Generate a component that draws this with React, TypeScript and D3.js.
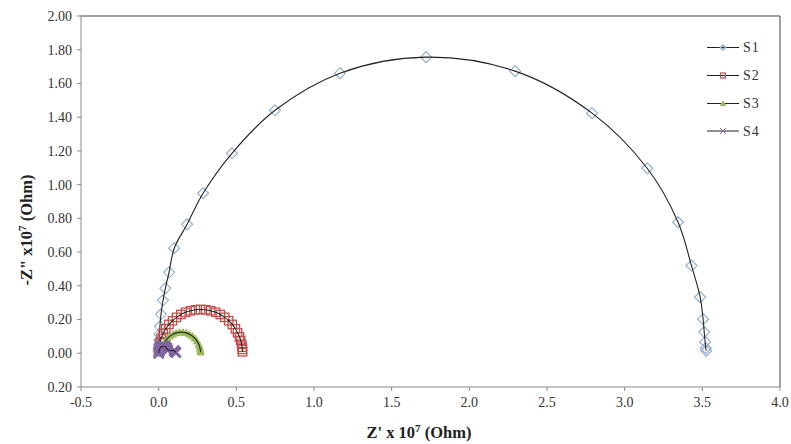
import React from "react";
import * as d3 from "d3";

const seriesNames = ["S1", "S2", "S3", "S4"];

const s1X = [0.0, 0.001, 0.002, 0.003, 0.005, 0.008, 0.015, 0.028, 0.043, 0.067, 0.1, 0.183, 0.286, 0.472, 0.749, 1.168, 1.722, 2.295, 2.79, 3.145, 3.344, 3.43, 3.486, 3.505, 3.512, 3.518, 3.522, 3.525];
const s1Y = [0.01, 0.025, 0.049, 0.077, 0.113, 0.16, 0.231, 0.314, 0.385, 0.48, 0.623, 0.765, 0.949, 1.186, 1.441, 1.661, 1.756, 1.673, 1.424, 1.097, 0.777, 0.52, 0.333, 0.202, 0.126, 0.067, 0.03, 0.015];

const s2X = [0.0004, 0.003, 0.008, 0.016, 0.029, 0.046, 0.066, 0.089, 0.115, 0.143, 0.173, 0.205, 0.237, 0.27, 0.303, 0.335, 0.367, 0.397, 0.425, 0.451, 0.474, 0.494, 0.508, 0.52, 0.528, 0.534, 0.537, 0.539, 0.54];
const s2Y = [0.014, 0.036, 0.063, 0.089, 0.118, 0.145, 0.171, 0.193, 0.213, 0.23, 0.243, 0.252, 0.258, 0.26, 0.258, 0.252, 0.243, 0.23, 0.213, 0.193, 0.171, 0.145, 0.122, 0.097, 0.076, 0.054, 0.036, 0.023, 0.009];

const s3X = [0.002, 0.008, 0.016, 0.024, 0.032, 0.043, 0.057, 0.073, 0.092, 0.113, 0.134, 0.156, 0.177, 0.198, 0.217, 0.233, 0.247, 0.258, 0.264, 0.267, 0.269, 0.27];
const s3Y = [0.004, 0.012, 0.022, 0.032, 0.053, 0.072, 0.088, 0.102, 0.113, 0.121, 0.125, 0.125, 0.121, 0.113, 0.102, 0.088, 0.072, 0.053, 0.039, 0.026, 0.015, 0.0065];

const s4X = [0.0, 0.002, 0.006, 0.012, 0.02, 0.03, 0.04, 0.05, 0.058, 0.1, 0.11];
const s4Y = [0.0, 0.012, 0.024, 0.034, 0.04, 0.042, 0.04, 0.032, 0.02, 0.015, 0.005];

const xTicks = [-0.5, 0, 0.5, 1, 1.5, 2, 2.5, 3, 3.5, 4];
const yTicks = [-0.2, 0, 0.2, 0.4, 0.6, 0.8, 1.0, 1.2, 1.4, 1.6, 1.8, 2.0];

const W = 791;
const H = 444;
const L = 81, R = 780, T = 16, B = 387;

const x = d3.scaleLinear().domain([-0.5, 4]).range([L, R]);
const y = d3.scaleLinear().domain([-0.2, 2]).range([B, T]);

const line = d3
  .line<[number, number]>()
  .x((d) => x(d[0]))
  .y((d) => y(d[1]))
  .curve(d3.curveCatmullRom.alpha(0.5));

const zip = (a: number[], b: number[]) => a.map((v, i) => [v, b[i]] as [number, number]);

const FONT = "'Liberation Serif', 'Times New Roman', serif";

function Marker({ kind, cx, cy, s, w }: { kind: number; cx: number; cy: number; s: number; w?: number }) {
  if (kind === 0) {
    return (
      <path
        d={`M${cx},${cy - s}L${cx + s},${cy}L${cx},${cy + s}L${cx - s},${cy}Z`}
        fill="none"
        stroke="#8EAACB"
        strokeWidth={w ?? 1.1}
      />
    );
  }
  if (kind === 1) {
    return (
      <rect x={cx - s} y={cy - s} width={2 * s} height={2 * s} fill="none" stroke="#C0504D" strokeWidth={w ?? 1.3} />
    );
  }
  if (kind === 2) {
    return (
      <path
        d={`M${cx},${cy - s}L${cx + s},${cy + s * 0.8}L${cx - s},${cy + s * 0.8}Z`}
        fill="#9BBB59"
        stroke="#9BBB59"
        strokeWidth={w ?? 1}
      />
    );
  }
  return (
    <path
      d={`M${cx - s},${cy - s}L${cx + s},${cy + s}M${cx - s},${cy + s}L${cx + s},${cy - s}`}
      stroke="#8064A2"
      strokeWidth={w ?? 2.8}
      fill="none"
    />
  );
}

const series = [
  { pts: zip(s1X, s1Y), size: 5.5 },
  { pts: zip(s2X, s2Y), size: 4.2 },
  { pts: zip(s3X, s3Y), size: 3.5 },
  { pts: zip(s4X, s4Y), size: 5 },
];

const legendY = [47.5, 75.5, 103.5, 131];
const legendSize = [2.5, 2.5, 2.5, 3];
const legendStroke = [1.5, 1.2, 1, 1];

export default function App() {
  return (
    <div style={{ position: "absolute", left: 0, top: 0 }}>
      <svg width={W} height={H} style={{ display: "block", background: "#fff" }}>
        <rect width={W} height={H} fill="#fff" />
        <line x1={L} y1={T} x2={R} y2={T} stroke="#444" strokeWidth={1} />
        <line x1={R} y1={T} x2={R} y2={B} stroke="#444" strokeWidth={1} />
        <line x1={L} y1={T} x2={L} y2={B} stroke="#888" strokeWidth={1} />
        <line x1={L} y1={B} x2={R} y2={B} stroke="#888" strokeWidth={1} />
        {yTicks.map((t) => (
          <g key={"y" + t}>
            <line x1={L - 4} x2={L} y1={y(t)} y2={y(t)} stroke="#888" />
            <text
              x={L - 9}
              y={y(t)}
              dy="0.35em"
              textAnchor="end"
              fontFamily={FONT}
              fontSize={14}
              fill="#333"
            >
              {Math.abs(t).toFixed(2)}
            </text>
          </g>
        ))}
        {xTicks.map((t) => (
          <g key={"x" + t}>
            <line x1={x(t)} x2={x(t)} y1={B} y2={B + 4} stroke="#888" />
            <text x={x(t)} y={B + 20} textAnchor="middle" fontFamily={FONT} fontSize={14} fill="#333">
              {t.toFixed(1)}
            </text>
          </g>
        ))}
        <text x={419} y={438} textAnchor="middle" fontFamily={FONT} fontSize={16.5} fontWeight="bold" fill="#222">
          Z' x 10
          <tspan dy={-6} fontSize={11}>7</tspan>
          <tspan dy={6}> (Ohm)</tspan>
        </text>
        <text
          transform="translate(32,230) rotate(-90)"
          textAnchor="middle"
          fontFamily={FONT}
          fontSize={16.5}
          fontWeight="bold"
          fill="#222"
        >
          -Z" x10
          <tspan dy={-6} fontSize={11}>7</tspan>
          <tspan dy={6}> (Ohm)</tspan>
        </text>
        {series.map((s, i) => (
          <g key={"s" + i}>
            {s.pts.map((p, j) => (
              <Marker key={j} kind={i} cx={x(p[0])} cy={y(p[1])} s={s.size} />
            ))}
            <path d={line(s.pts) || ""} fill="none" stroke="#222" strokeWidth={1.1} />
          </g>
        ))}
        {seriesNames.map((n, i) => (
          <g key={n}>
            <line x1={707} x2={739} y1={legendY[i]} y2={legendY[i]} stroke="#222" strokeWidth={1} />
            <Marker kind={i} cx={723} cy={legendY[i]} s={legendSize[i]} w={legendStroke[i]} />
            <text x={743} y={legendY[i]} dy="0.35em" fontFamily={FONT} fontSize={14} fill="#333" letterSpacing={1}>
              {n}
            </text>
          </g>
        ))}
      </svg>
    </div>
  );
}
